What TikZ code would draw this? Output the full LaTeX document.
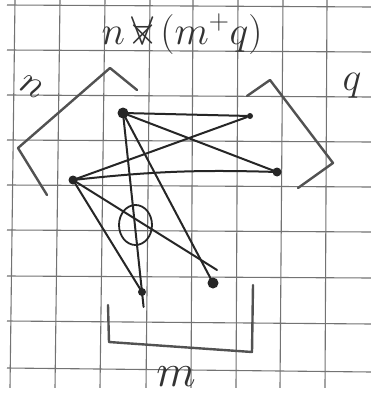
\documentclass[tikz,border=0pt]{standalone}
\usepackage{fix-cm}
\usetikzlibrary{shapes.geometric}
\begin{document}
\begin{tikzpicture}[x=1pt,y=-1pt,
  gridline/.style={draw=black!55,line width=1.1pt},
  ink/.style={draw=black!85,line width=2pt,line cap=round,line join=round},
  pencil/.style={draw=black!68,line width=2.4pt,line cap=round,line join=round},
  dot/.style={circle,fill=black!85,inner sep=0pt,minimum size=#1},
  lab/.style={text=black!80,inner sep=0pt}]
\useasboundingbox (0,0) rectangle (371,396);
\fill[white] (0,0) rectangle (371,396);
% grid paper
\foreach \xt/\xb in {15/10,60/55,105/100,150/146,193/191,238/236,283/280,327/325}
  \draw[gridline] (\xt,0) -- (\xb,388);
\foreach \yl/\yr in {5/7,50/52,95/97,140/142,185/187,230/232,276/278,321/324,368/372}
  \draw[gridline] (7,\yl) -- (371,\yr);
% vertices
\node[dot=11pt] (A) at (123,113) {};
\node[dot=6pt] (B) at (250,116) {};
\node[dot=9pt] (C) at (277,172) {};
\node[dot=9pt] (D) at (73,180) {};
\node[dot=8pt] (E) at (142,292) {};
\node[dot=11pt] (F) at (213,283) {};
\coordinate (Fx) at (217,270);
\node[draw=black!85,line width=1.8pt,ellipse,inner sep=0pt,minimum width=33pt,minimum height=40pt] (O) at (135.5,225) {};
% edges
\draw[ink] (A.center) -- (B);
\draw[ink] (A.center) -- (C.center);
\draw[ink] (D.center) -- (B);
\draw[ink] (D.center) to[bend left=4] (C.center);
\draw[ink,shorten >=-15pt] (A.center) -- (E.center);
\draw[ink] (D.center) -- (E.center);
\draw[ink] (A.center) -- (F.center);
\draw[ink] (D.center) -- (Fx);
% brackets
\draw[pencil] (47,195) -- (18,148) -- (110,68) -- (137,90);
\draw[pencil] (247,96) -- (270,80) -- (333,163) -- (298,188);
\draw[pencil] (108,305) -- (109,342) -- (252,352) -- (253,285);
% labels
\node[lab,rotate=-30,font=\fontsize{40}{40}\selectfont] (ln) at (32,87) {$n$};
\node[lab,font=\fontsize{40}{40}\selectfont] (lq) at (352,86) {$q$};
\node[lab,font=\fontsize{46}{46}\selectfont] (lm) at (176,377) {$m$};
\node[lab,font=\fontsize{40}{40}\selectfont] (title) at (182,34)
  {$n\,\ooalign{$\forall$\cr\hidewidth$\times$\hidewidth\cr}\,(m^{+}q)$};
\fill[white] (0,388) rectangle (371,396);
\end{tikzpicture}
\end{document}
